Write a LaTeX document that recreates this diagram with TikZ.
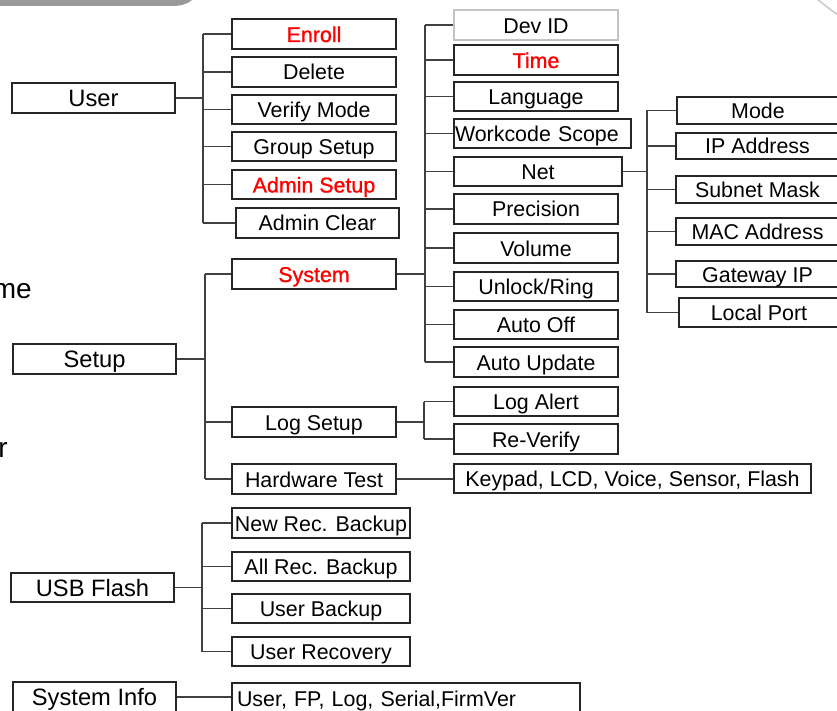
\documentclass[tikz,border=0pt]{standalone}
\usepackage{fontspec}
\setmainfont{Liberation Sans}
\newfontfamily\redfont[FakeBold=1.1]{Liberation Sans}
\newcommand\mainsize{\fontsize{21.4}{24}\selectfont}
\newcommand\rootsize{\fontsize{23.7}{26}\selectfont}
\newcommand\mybox[7]{\node[box,#6,minimum width={#4pt-#2pt},minimum height={#5pt-#3pt}] (#1) at ({(#2+#4)/2},{(#3+#5)/2}) {#7};}
\definecolor{bargray}{RGB}{153,153,153}
\definecolor{arcgray}{RGB}{200,200,200}
\definecolor{devgray}{RGB}{195,195,195}
\tikzset{
  box/.style={draw=black!85, line width=1.3pt, inner sep=0pt, text height=17pt, text depth=1pt, font=\mainsize},
  rootbox/.style={font=\rootsize, text height=18pt, text depth=1pt},
  redtxt/.style={text=red, font=\mainsize\redfont},
  conn/.style={draw=black!75, line width=1.4pt},
  frag/.style={inner sep=0pt, font=\fontsize{28}{30}\selectfont}
}
\begin{document}
\begin{tikzpicture}[x=1pt,y=-1pt]
\useasboundingbox (0,0) rectangle (837,711);
% decorations
\fill[bargray] (0,-2) -- (192,-2) -- (192,0) .. controls (186,5) and (180,6) .. (170,6) -- (0,6) -- cycle;
\draw[arcgray, line width=1.5pt] (815,-3) .. controls (824,5) and (831,10) .. (842,18);
\node[frag, anchor=base east] (fragme) at (32,298) {me};
\node[frag, anchor=base east] (fragr) at (8,457) {r};
% User
\mybox{User}{12}{83}{175}{113}{rootbox}{User}
\mybox{Enroll}{232}{19}{396}{49}{redtxt}{Enroll}
\mybox{Delete}{232}{57}{396}{87}{}{Delete}
\mybox{VerifyMode}{232}{95}{396}{124}{}{Verify Mode}
\mybox{GroupSetup}{232}{132}{396}{161}{}{Group Setup}
\mybox{AdminSetup}{232}{170}{396}{199}{redtxt}{Admin Setup}
\mybox{AdminClear}{236}{208}{399}{238}{}{Admin Clear}
% Setup
\mybox{Setup}{13}{344}{176}{374}{rootbox}{Setup}
\mybox{System}{232}{259}{396}{289}{redtxt}{System}
\mybox{LogSetup}{232}{407}{396}{437}{}{Log Setup}
\mybox{HWTest}{232}{464}{396}{494}{}{Hardware Test}
% System children
\mybox{DevID}{454}{10}{618}{40}{draw=devgray, line width=2.5pt, text height=18pt, text depth=0pt}{Dev ID}
\mybox{Time}{454}{45}{618}{75}{redtxt}{Time}
\mybox{Language}{454}{82}{618}{111}{}{Language}
\mybox{Workcode}{454}{119}{631}{148}{text width=175pt, align=left}{Workcode Scope}
\mybox{Net}{454}{157}{622}{186}{}{Net}
\mybox{Precision}{454}{194}{618}{224}{}{Precision}
\mybox{Volume}{454}{233}{618}{263}{}{Volume}
\mybox{Unlock}{454}{272}{618}{301}{}{Unlock/Ring}
\mybox{AutoOff}{454}{310}{618}{339}{}{Auto Off}
\mybox{AutoUpdate}{454}{347}{618}{377}{}{Auto Update}
\mybox{LogAlert}{454}{387}{618}{416}{}{Log Alert}
\mybox{ReVerify}{454}{424}{618}{454}{}{Re-Verify}
\mybox{Keypad}{454}{464}{811}{493}{}{Keypad, LCD, Voice, Sensor, Flash}
% Net children
\mybox{Mode}{677}{97}{839}{124}{}{Mode}
\mybox{IP}{676}{133}{839}{159}{}{IP Address}
\mybox{Subnet}{676}{176}{839}{203}{}{Subnet Mask}
\mybox{MAC}{676}{218}{839}{245}{}{MAC Address}
\mybox{Gateway}{676}{261}{839}{287}{}{Gateway IP}
\mybox{LocalPort}{679}{298}{839}{327}{}{Local Port}
% USB
\mybox{USB}{11}{573}{174}{602}{rootbox}{USB Flash}
\mybox{NewRec}{232}{508}{410}{538}{}{New Rec. Backup}
\mybox{AllRec}{232}{552}{410}{581}{}{All Rec. Backup}
\mybox{UserBackup}{232}{594}{410}{623}{}{User Backup}
\mybox{UserRecovery}{232}{637}{410}{666}{}{User Recovery}
% System Info
\mybox{SysInfo}{13}{682}{176}{712}{rootbox}{System Info}
\mybox{UserFP}{232}{683}{580}{713}{text width=338pt, align=left}{User, FP, Log, Serial,FirmVer}
% connectors
\coordinate (ubus) at (203,98);
\draw[conn] (User.east) -- (ubus);
\draw[conn] (ubus |- Enroll.west) -- (ubus |- AdminClear.west);
\foreach \n in {Enroll,Delete,VerifyMode,GroupSetup,AdminSetup,AdminClear}
  \draw[conn] (ubus |- \n.west) -- (\n.west);
\coordinate (sbus) at (205,360);
\draw[conn] (Setup.east) -- (sbus |- Setup.east);
\draw[conn] (sbus |- System.west) -- (sbus |- HWTest.west);
\foreach \n in {System,LogSetup,HWTest}
  \draw[conn] (sbus |- \n.west) -- (\n.west);
\coordinate (sysbus) at (425,274);
\draw[conn] (System.east) -- (sysbus |- System.east);
\draw[conn] (sysbus |- DevID.west) -- (sysbus |- AutoUpdate.west);
\foreach \n in {DevID,Time,Language,Workcode,Net,Precision,Volume,Unlock,AutoOff,AutoUpdate}
  \draw[conn] (sysbus |- \n.west) -- (\n.west);
\coordinate (logbus) at (424,422);
\draw[conn] (LogSetup.east) -- (logbus |- LogSetup.east);
\draw[conn] (logbus |- LogAlert.west) -- (logbus |- ReVerify.west);
\foreach \n in {LogAlert,ReVerify}
  \draw[conn] (logbus |- \n.west) -- (\n.west);
\draw[conn] (HWTest.east) -- (HWTest.east -| Keypad.west);
\coordinate (netbus) at (647,172);
\draw[conn] (Net.east) -- (netbus |- Net.east);
\draw[conn] (netbus |- Mode.west) -- (netbus |- LocalPort.west);
\foreach \n in {Mode,IP,Subnet,MAC,Gateway,LocalPort}
  \draw[conn] (netbus |- \n.west) -- (\n.west);
\coordinate (usbbus) at (202,588);
\draw[conn] (USB.east) -- (usbbus |- USB.east);
\draw[conn] (usbbus |- NewRec.west) -- (usbbus |- UserRecovery.west);
\foreach \n in {NewRec,AllRec,UserBackup,UserRecovery}
  \draw[conn] (usbbus |- \n.west) -- (\n.west);
\draw[conn] (SysInfo.east) -- (SysInfo.east -| UserFP.west);
\end{tikzpicture}
\end{document}
